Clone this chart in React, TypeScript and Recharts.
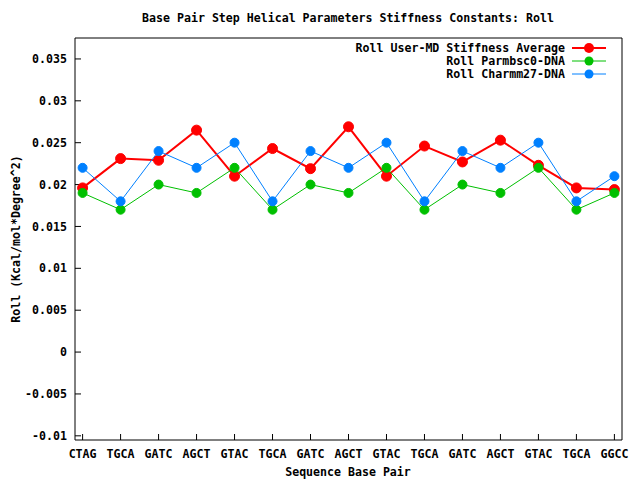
import { LineChart, Line, XAxis, YAxis } from "recharts";

// sequence base pair steps along the x axis
const pairs = [
  "CTAG", "TGCA", "GATC", "AGCT", "GTAC", "TGCA", "GATC", "AGCT",
  "GTAC", "TGCA", "GATC", "AGCT", "GTAC", "TGCA", "GGCC",
];

const userMd = [
  0.0196, 0.0231, 0.0229, 0.0265, 0.021, 0.0243, 0.0219, 0.0269,
  0.021, 0.0246, 0.0227, 0.0253, 0.0223, 0.0196, 0.0194,
];
const parmbsc0 = [
  0.019, 0.017, 0.02, 0.019, 0.022, 0.017, 0.02, 0.019,
  0.022, 0.017, 0.02, 0.019, 0.022, 0.017, 0.019,
];
const charmm27 = [
  0.022, 0.018, 0.024, 0.022, 0.025, 0.018, 0.024, 0.022,
  0.025, 0.018, 0.024, 0.022, 0.025, 0.018, 0.021,
];

const yTicks = [-0.01, -0.005, 0, 0.005, 0.01, 0.015, 0.02, 0.025, 0.03, 0.035];
const xTicks = pairs.map((_, i) => i);

// the last series is plotted against the mirrored (top/right) axes, which share the same ranges,
// so those axes get drawn as the frame of the plot
const series = [
  { key: "userMd", name: "Roll User-MD Stiffness Average", color: "#ff0000", width: 2, r: 5, x: "0", y: "0" },
  { key: "parmbsc0", name: "Roll Parmbsc0-DNA", color: "#00c000", width: 1, r: 4.5, x: "0", y: "0" },
  { key: "charmm27", name: "Roll Charmm27-DNA", color: "#0080ff", width: 1, r: 4.5, x: "top", y: "right" },
];

const data = pairs.map((label, i) => ({
  i,
  label,
  userMd: userMd[i],
  parmbsc0: parmbsc0[i],
  charmm27: charmm27[i],
}));

const FONT = "'DejaVu Sans Mono', monospace";
const textStyle = { fontFamily: FONT, fontSize: 11.6, fontWeight: "bold" as const, fill: "#000" };
const xDomain: [number, number] = [-0.2, 14.2];
const yDomain: [number, number] = [-0.0105, 0.0375];

const fmtY = (v: number) => String(Number(v.toFixed(4)));

const App = () => {
  return (
    <div style={{ position: "absolute", left: 0, top: 0, width: 640, height: 480, background: "#fff" }}>
      <LineChart
        width={640}
        height={480}
        data={data}
        margin={{ top: 37, right: 17, bottom: 0, left: 0 }}
      >
        <XAxis
          xAxisId="0"
          dataKey="i"
          type="number"
          domain={xDomain}
          ticks={xTicks}
          interval={0}
          tickFormatter={(i: number) => pairs[i]}
          height={40}
          tickSize={-6}
          tickMargin={16}
          stroke="#000"
          tick={textStyle}
          allowDataOverflow
        />
        <XAxis
          xAxisId="top"
          orientation="top"
          dataKey="i"
          type="number"
          domain={xDomain}
          ticks={xTicks}
          interval={0}
          height={1}
          tickSize={-6}
          tick={false}
          stroke="#000"
          allowDataOverflow
        />
        <YAxis
          yAxisId="0"
          type="number"
          domain={yDomain}
          ticks={yTicks}
          interval={0}
          width={75}
          tickSize={-6}
          tickMargin={14}
          tickFormatter={fmtY}
          stroke="#000"
          tick={textStyle}
          allowDataOverflow
        />
        <YAxis
          yAxisId="right"
          orientation="right"
          type="number"
          domain={yDomain}
          ticks={yTicks}
          interval={0}
          width={1}
          tickSize={-6}
          tick={false}
          stroke="#000"
          allowDataOverflow
        />
        {series.map((s) => (
          <Line
            key={s.key}
            xAxisId={s.x}
            yAxisId={s.y}
            type="linear"
            dataKey={s.key}
            name={s.name}
            stroke={s.color}
            strokeWidth={s.width}
            dot={{ r: s.r, fill: s.color, stroke: s.color, strokeWidth: 1 }}
            isAnimationActive={false}
          />
        ))}
      </LineChart>
      <svg
        width={640}
        height={480}
        style={{ position: "absolute", left: 0, top: 0, pointerEvents: "none" }}
      >
        <text x={348} y={22} textAnchor="middle" style={textStyle}>
          Base Pair Step Helical Parameters Stiffness Constants: Roll
        </text>
        <text x={348} y={476} textAnchor="middle" style={textStyle}>
          Sequence Base Pair
        </text>
        <text
          transform="translate(16,239) rotate(-90)"
          textAnchor="middle"
          dominantBaseline="middle"
          style={textStyle}
        >
          Roll (Kcal/mol*Degree^2)
        </text>
        {series.map((s, k) => {
          const y = 48 + k * 13;
          return (
            <g key={s.key}>
              <text x={565} y={y} textAnchor="end" dominantBaseline="middle" style={textStyle}>
                {s.name}
              </text>
              <line x1={572} x2={606} y1={y} y2={y} stroke={s.color} strokeWidth={s.width} />
              <circle cx={589} cy={y} r={s.r} fill={s.color} />
            </g>
          );
        })}
      </svg>
    </div>
  );
};

export default App;
